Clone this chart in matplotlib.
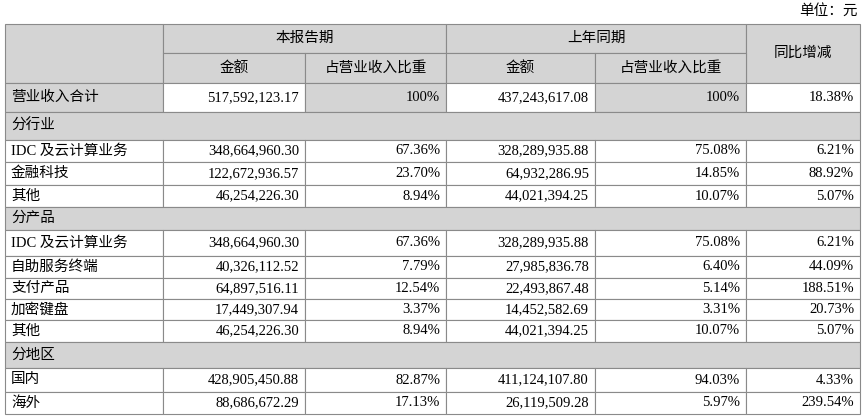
import matplotlib.pyplot as plt
from matplotlib.patches import Rectangle

plt.rcParams['font.family'] = ['Liberation Serif', 'Noto Sans CJK SC']

# 数据
labels = ['IDC 及云计算业务', '金融科技', '其他',
          'IDC 及云计算业务', '自助服务终端', '支付产品', '加密键盘', '其他',
          '国内', '海外']
cur_amt = ['348,664,960.30', '122,672,936.57', '46,254,226.30',
           '348,664,960.30', '40,326,112.52', '64,897,516.11', '17,449,307.94', '46,254,226.30',
           '428,905,450.88', '88,686,672.29']
cur_pct = ['67.36%', '23.70%', '8.94%', '67.36%', '7.79%', '12.54%', '3.37%', '8.94%',
           '82.87%', '17.13%']
prev_amt = ['328,289,935.88', '64,932,286.95', '44,021,394.25',
            '328,289,935.88', '27,985,836.78', '22,493,867.48', '14,452,582.69', '44,021,394.25',
            '411,124,107.80', '26,119,509.28']
prev_pct = ['75.08%', '14.85%', '10.07%', '75.08%', '6.40%', '5.14%', '3.31%', '10.07%',
            '94.03%', '5.97%']
yoy = ['6.21%', '88.92%', '5.07%', '6.21%', '44.09%', '188.51%', '20.73%', '5.07%',
       '4.33%', '239.54%']
total_row = ['营业收入合计', '517,592,123.17', '100%', '437,243,617.08', '100%', '18.38%']
sections = ['分行业', '分产品', '分地区']
section_sizes = [3, 5, 2]

W, H = 865, 420
fig = plt.figure(figsize=(8.65, 4.2), dpi=100)
ax = fig.add_axes([0, 0, 1, 1])
ax.set_xlim(0, W)
ax.set_ylim(H, 0)
ax.axis('off')

GRAY = '#d4d4d4'
LINE = '#8a8a8a'
FS = 10.5
cols = [5, 163, 305, 446, 595, 746, 860]


def cell(x0, x1, y0, y1, text='', fill='white', ha='right'):
    ax.add_patch(Rectangle((x0, y0), x1 - x0, y1 - y0, facecolor=fill,
                           edgecolor=LINE, linewidth=0.8))
    if text:
        if ha == 'right':
            tx = x1 - 6
        elif ha == 'left':
            tx = x0 + 6
        else:
            tx = (x0 + x1) / 2
        ax.text(tx, (y0 + y1) / 2, text, ha=ha, va='center', fontsize=FS)


ax.text(858, 11, '单位：元', ha='right', va='center', fontsize=FS)

# 表头
cell(cols[0], cols[1], 24, 83, fill=GRAY)
cell(cols[1], cols[3], 24, 53, '本报告期', GRAY, 'center')
cell(cols[3], cols[5], 24, 53, '上年同期', GRAY, 'center')
cell(cols[5], cols[6], 24, 83, '同比增减', GRAY, 'center')
for i, t in enumerate(['金额', '占营业收入比重', '金额', '占营业收入比重']):
    cell(cols[1 + i], cols[2 + i], 53, 83, t, GRAY, 'center')

# 合计行
tot_fill = [GRAY, 'white', GRAY, 'white', GRAY, 'white']
for i, t in enumerate(total_row):
    cell(cols[i], cols[i + 1], 83, 112, t, tot_fill[i], 'left' if i == 0 else 'right')

sec_h = [28, 23, 26]
row_h = [[22, 23, 22], [26, 22, 21, 21, 22], [24, 22]]
y = 112
k = 0
for s, name in enumerate(sections):
    cell(cols[0], cols[6], y, y + sec_h[s], name, GRAY, 'left')
    y += sec_h[s]
    for j in range(section_sizes[s]):
        h = row_h[s][j]
        vals = [labels[k], cur_amt[k], cur_pct[k], prev_amt[k], prev_pct[k], yoy[k]]
        for i, t in enumerate(vals):
            cell(cols[i], cols[i + 1], y, y + h, t, 'white', 'left' if i == 0 else 'right')
        y += h
        k += 1

fig.savefig('out.png', dpi=100)
